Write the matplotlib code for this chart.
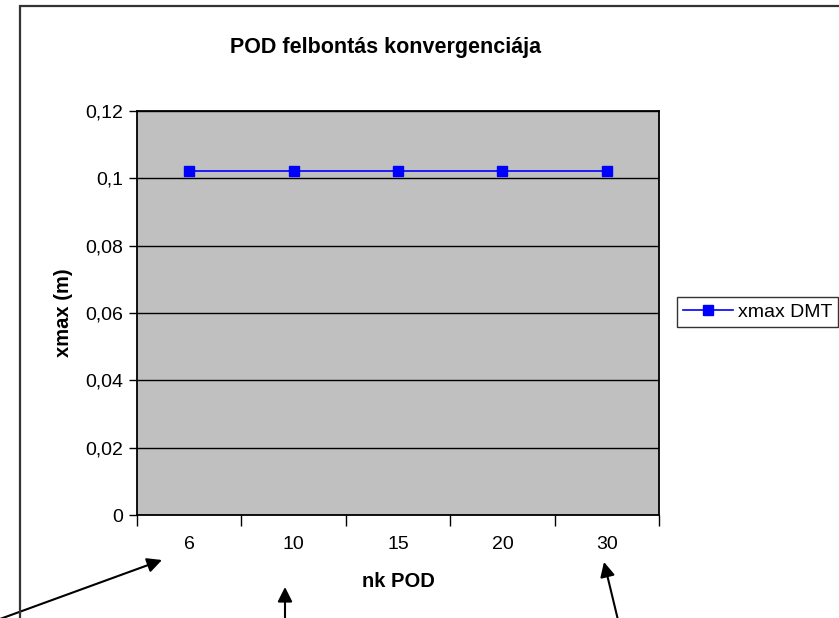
import matplotlib

matplotlib.use("Agg")
import matplotlib.pyplot as plt
from matplotlib.patches import Rectangle

plt.rcParams["font.family"] = ["Liberation Sans", "DejaVu Sans"]

# data
categories = ["6", "10", "15", "20", "30"]
xmax_dmt = [0.1022, 0.1022, 0.1022, 0.1022, 0.1022]
y_ticks = [0, 0.02, 0.04, 0.06, 0.08, 0.1, 0.12]
y_tick_labels = ["0", "0,02", "0,04", "0,06", "0,08", "0,1", "0,12"]

W, H = 839, 618
fig = plt.figure(figsize=(W / 100, H / 100), dpi=100)


def fx(px):
    return px / W


def fy(py):
    return 1 - py / H


# outer chart border (runs off the right and bottom edges)
fig.add_artist(Rectangle((fx(20), fy(640)), fx(860), fy(6) - fy(640), transform=fig.transFigure,
                         fill=False, edgecolor="#333333", lw=1.6))

ax = fig.add_axes([fx(137), fy(515), fx(659) - fx(137), fy(111) - fy(515)])
ax.set_facecolor("#C0C0C0")
for s in ax.spines.values():
    s.set_color("black")
    s.set_linewidth(1.3)

x = list(range(len(categories)))
ax.plot(x, xmax_dmt, color="#0000FF", lw=1.2, marker="s", markersize=7,
        markerfacecolor="#0000FF", markeredgecolor="#0000FF", label="xmax DMT", zorder=3)

ax.set_xlim(-0.5, len(categories) - 0.5)
ax.set_ylim(0, 0.12)
ax.set_yticks(y_ticks)
ax.set_yticklabels(y_tick_labels)
ax.yaxis.grid(True, color="black", lw=1.0)
ax.set_axisbelow(True)

ax.set_xticks(x)
ax.set_xticklabels(categories)
ax.tick_params(axis="x", length=0, pad=15, labelsize=14)
ax.set_xticks([i - 0.5 for i in range(len(categories) + 1)], minor=True)
ax.tick_params(axis="x", which="minor", length=8, width=1, direction="out")
ax.tick_params(axis="y", length=6, width=1, direction="out", labelsize=14, pad=4)

ax.set_xlabel("nk POD", fontsize=14.5, fontweight="bold", labelpad=14)
ax.set_ylabel("xmax (m)", fontsize=14.5, fontweight="bold", labelpad=9)
fig.text(fx(386), fy(47), "POD felbontás konvergenciája", ha="center", va="center",
         fontsize=15.5, fontweight="bold")

leg = ax.legend(loc="center left", bbox_to_anchor=(fx(677), fy(312)), bbox_transform=fig.transFigure,
                frameon=True, fancybox=False, fontsize=14, handlelength=2.6,
                borderpad=0.3, handletextpad=0.25, borderaxespad=0)
leg.get_frame().set_edgecolor("black")
leg.get_frame().set_linewidth(1.0)

# arrows pointing at tick labels
arrows = [((0, 619), (162, 560)), ((285, 620), (285, 587)), ((618, 620), (604, 562))]
for (x0, y0), (x1, y1) in arrows:
    ax.annotate("", xy=(fx(x1), fy(y1)), xytext=(fx(x0), fy(y0)), xycoords="figure fraction",
                textcoords="figure fraction", annotation_clip=False,
                arrowprops=dict(arrowstyle="-|>", color="black", lw=1.5, mutation_scale=22,
                                shrinkA=0, shrinkB=0))

fig.savefig("out.png", dpi=100)
